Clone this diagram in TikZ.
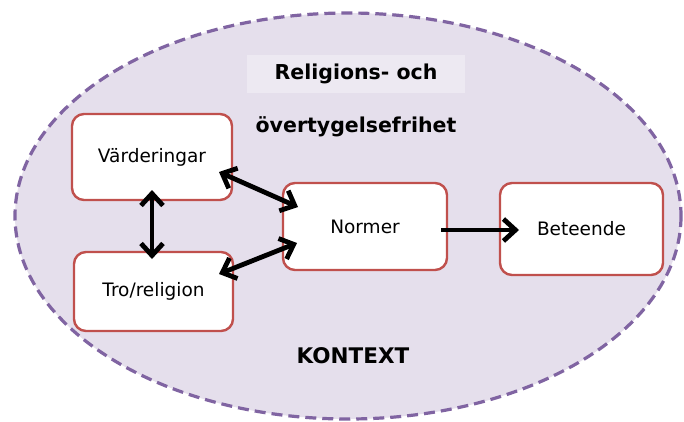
\documentclass[tikz,border=0pt]{standalone}
\usepackage{fontspec}
\setmainfont{DejaVu Sans}
\usetikzlibrary{arrows.meta}
\definecolor{lav}{HTML}{E5DFEC}
\definecolor{lavlight}{HTML}{EDE9F2}
\definecolor{purp}{HTML}{8064A2}
\definecolor{boxred}{HTML}{C0504D}
\begin{document}
\begin{tikzpicture}[x=1pt,y=-1pt,
  box/.style={draw=boxred, line width=2.4pt, fill=white, rounded corners=12pt, inner sep=0pt, font=\fontsize{18.5}{22}\selectfont},
  conn/.style={line width=4.8pt, black},
  title/.style={font=\bfseries\fontsize{20.5}{24}\selectfont, inner sep=0pt}
]
\tikzset{barb/.tip={Straight Barb[length=12pt,width=22pt]}}
\useasboundingbox (0,0) rectangle (684,421);
\fill[white] (0,0) rectangle (684,421);
\draw[fill=lav, draw=purp, line width=3.2pt, dash pattern=on 11pt off 6pt] (348,216) ellipse [x radius=333, y radius=203];
\node[fill=lavlight, minimum width=218, minimum height=38, inner sep=0pt] (tbg) at (356,74) {};
\node[title] (t1) at (356,74) {Religions- och};
\node[title] (t2) at (356,127) {övertygelsefrihet};
\node[title, font=\bfseries\fontsize{21.5}{25}\selectfont] (ktx) at (353,356) {KONTEXT};
\node[box, minimum width=160, minimum height=86] (V) at (152,157) {Värderingar};
\node[box, minimum width=159, minimum height=79] (T) at (153.5,291.5) {Tro/religion};
\node[box, minimum width=164, minimum height=87] (N) at (365,226.5) {Normer};
\node[box, minimum width=163, minimum height=92] (B) at (581.5,229) {Beteende};
\coordinate (v1) at (152,190);
\coordinate (t1a) at (152,259);
\coordinate (v2) at (219,172);
\coordinate (n1) at (298,207);
\coordinate (t2a) at (219,274);
\coordinate (n2) at (297,243);
\coordinate (n3) at (441,230);
\coordinate (b3) at (519,230);
\draw[conn, barb-barb] (v1) -- (t1a);
\draw[conn, barb-barb] (v2) -- (n1);
\draw[conn, barb-barb] (t2a) -- (n2);
\draw[conn, -barb] (n3) -- (b3);
\end{tikzpicture}
\end{document}
